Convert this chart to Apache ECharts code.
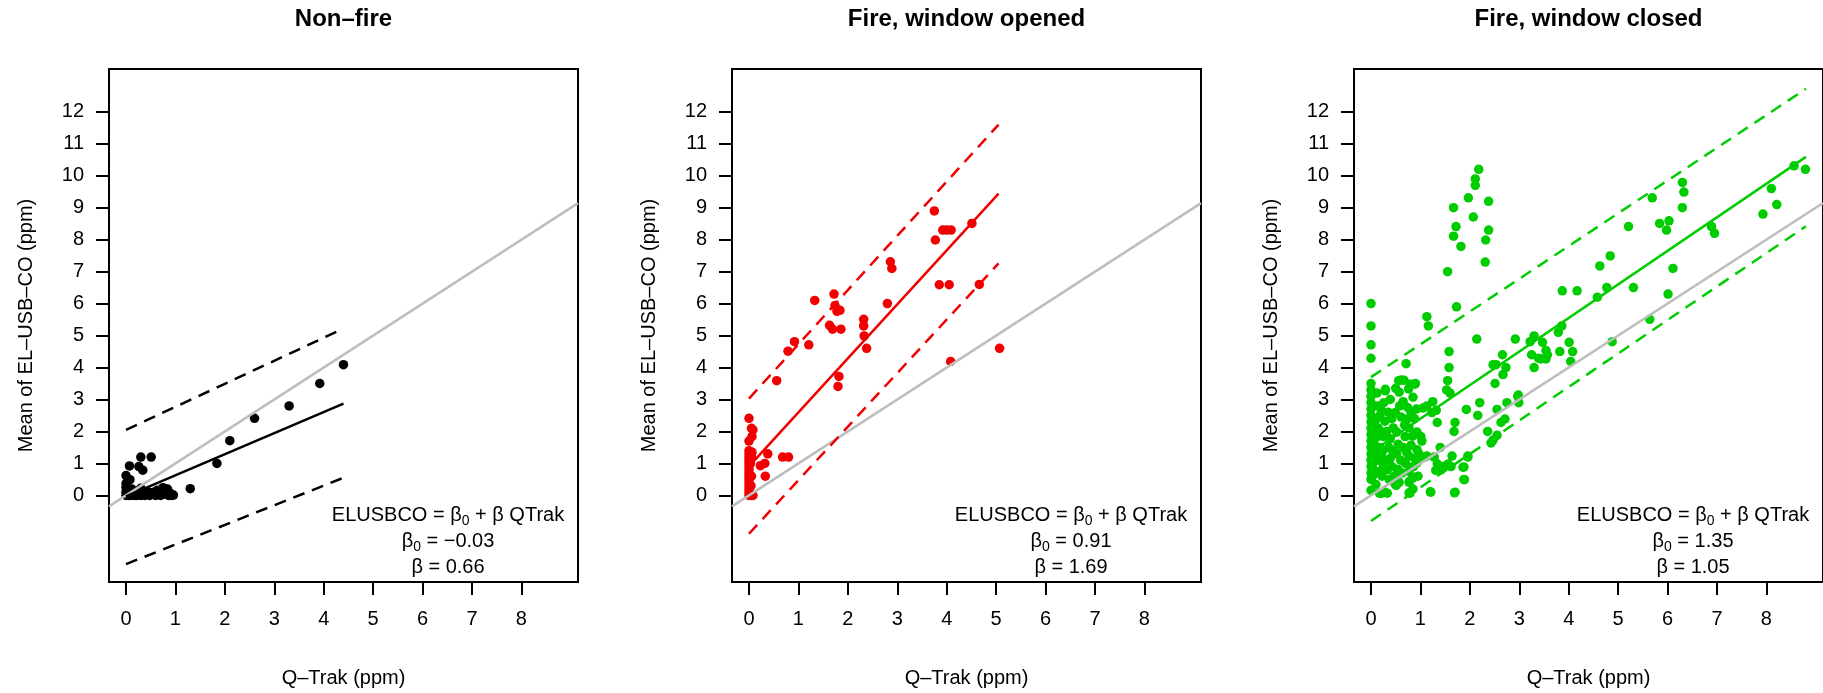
<!DOCTYPE html>
<html>
<head>
<meta charset="utf-8">
<title>EL-USB-CO vs Q-Trak</title>
<script src="https://cdn.jsdelivr.net/npm/echarts@6/dist/echarts.min.js"></script>
<style>
  html, body { margin: 0; padding: 0; background: #fff; }
  #main { width: 1823px; height: 693px; }
</style>
</head>
<body>
<div id="main"></div>
<script>
var myChart = echarts.init(document.getElementById('main'));
var font = '"Liberation Sans", Arial, Helvetica, sans-serif';

// panel titles + regression text
var panelTitles = ['Non–fire', 'Fire, window opened', 'Fire, window closed'];
var beta0Text = ['−0.03', '0.91', '1.35'];
var betaText = ['0.66', '1.69', '1.05'];
var panelColors = ['#000000', '#f00000', '#00cd00'];

var xTicks = [0, 1, 2, 3, 4, 5, 6, 7, 8];
var yTicks = [0, 1, 2, 3, 4, 5, 6, 7, 8, 9, 10, 11, 12];
var xLim = [-0.344, 9.145];
var yLim = [-2.71, 13.34];

// grey 1:1 line across the plot box
var identityLine = [[-0.344, -0.344], [9.145, 9.145]];

// Non-fire
var nonFirePoints = [
  [4.40, 4.09], [3.92, 3.50], [3.30, 2.80], [2.60, 2.41], [2.10, 1.71], [1.84, 1.00], [1.30, 0.21],
  [0.30, 1.20], [0.51, 1.20], [0.07, 0.92], [0.26, 0.90], [0.34, 0.79], [0.00, 0.62], [0.08, 0.49],
  [0.00, 0.37], [0.00, 0.25],
  [0, 0], [0, 0.1], [0.02, 0.05], [0.04, 0.18], [0.05, 0], [0.07, 0.1], [0.1, 0], [0.12, 0.2],
  [0.14, 0.06], [0.17, 0], [0.2, 0.1], [0.22, 0], [0.25, 0.15], [0.28, 0.04], [0.3, 0], [0.3, 0.22],
  [0.34, 0.1], [0.38, 0], [0.41, 0.05], [0.44, 0.12], [0.48, 0], [0.52, 0.06], [0.56, 0.1], [0.6, 0],
  [0.63, 0.16], [0.66, 0.05], [0.7, 0], [0.72, 0.14], [0.75, 0.24], [0.78, 0.04], [0.8, 0.12],
  [0.84, 0.2], [0.86, 0], [0.9, 0.06], [0.93, 0], [0.96, 0.01]
];
var nonFireFit = [[0, -0.03], [4.4, 2.87]];
var nonFireUpper = [[0, 2.05], [4.4, 5.22]];
var nonFireLower = [[0, -2.15], [4.4, 0.55]];

// Fire, window opened
var openPoints = [
  [3.75, 8.90], [3.77, 7.99], [3.92, 8.30], [4.00, 8.30], [4.09, 8.30], [4.51, 8.51], [3.85, 6.59],
  [4.05, 6.59], [4.66, 6.60], [4.08, 4.19], [5.07, 4.60], [2.86, 7.31], [2.89, 7.10], [2.80, 6.00],
  [2.32, 5.51], [2.32, 5.30], [2.33, 4.99], [2.38, 4.60], [1.33, 6.10], [1.72, 6.30], [1.74, 5.94],
  [1.78, 5.76], [1.84, 5.79], [1.63, 5.32], [1.69, 5.20], [1.86, 5.20], [1.82, 3.72], [1.80, 3.41],
  [1.21, 4.71], [0.92, 4.81], [0.79, 4.51], [0.56, 3.59], [0.68, 1.20], [0.80, 1.20], [0.38, 1.30],
  [0.23, 0.93], [0.32, 1.00], [0.33, 0.60], [0.00, 2.41], [0.08, 2.05], [0.06, 1.84], [0.00, 1.70],
  [0.05, 2.10],
  [0, 0], [0, 0.1], [0, 0.2], [0, 0.3], [0, 0.4], [0, 0.5], [0, 0.6], [0, 0.7], [0, 0.8], [0, 0.9],
  [0, 1.0], [0, 1.1], [0, 1.2], [0, 1.3], [0, 1.4], [0.05, 0], [0.04, 0.3], [0.05, 0.6], [0.03, 1.0],
  [0.05, 1.2], [0.06, 1.35], [0.08, 0]
];
var openFit = [[0, 0.91], [5.05, 9.44]];
var openUpper = [[0, 3.03], [5.05, 11.6]];
var openLower = [[0, -1.2], [5.05, 7.26]];

// Fire, window closed
var closedPoints = [
  [2.18, 10.20], [2.11, 9.90], [2.11, 9.70], [1.97, 9.31], [2.38, 9.20], [1.67, 9.00], [2.07, 8.71],
  [1.72, 8.41], [2.38, 8.30], [1.67, 8.11], [2.32, 7.99], [1.82, 7.79], [2.31, 7.30], [1.55, 7.00],
  [1.73, 5.90], [0, 6.00], [0, 5.30], [0, 4.71], [0, 4.29], [1.13, 5.59], [1.16, 5.30], [2.14, 4.89],
  [1.58, 4.50], [1.58, 4.00], [1.55, 3.59], [1.53, 3.30], [0.71, 4.12], [0.56, 3.59],
  [2.92, 4.89], [3.87, 6.40], [4.17, 6.40], [4.63, 7.18], [4.84, 7.49], [4.58, 6.20], [4.77, 6.50],
  [5.31, 6.50], [5.21, 8.41], [5.69, 9.31], [5.84, 8.51], [5.98, 8.30], [6.03, 8.59], [6.30, 9.79],
  [6.33, 9.49], [6.30, 9.00], [6.11, 7.10], [6.01, 6.30], [5.64, 5.51], [4.88, 4.81], [6.89, 8.41],
  [6.95, 8.20], [8.10, 9.60], [8.21, 9.10], [7.93, 8.80], [8.56, 10.31], [8.79, 10.20],
  [3.30, 4.99], [3.22, 4.81], [3.25, 4.40], [3.30, 4.00], [3.47, 4.79], [3.54, 4.53], [3.57, 4.40],
  [3.44, 4.27], [3.54, 4.27], [3.39, 4.29], [3.79, 5.10], [3.86, 5.30], [3.82, 4.50], [4.01, 4.79],
  [4.08, 4.50], [4.04, 4.19], [2.66, 4.40], [2.47, 4.09], [2.53, 4.09], [2.73, 4.00], [2.67, 3.78],
  [2.51, 3.50], [2.98, 3.14],
  [2.97, 3.10], [2.99, 2.90], [2.75, 2.90], [2.71, 2.39], [2.63, 2.28], [2.55, 2.69], [2.36, 2.00],
  [2.43, 1.64], [2.47, 1.73], [2.55, 1.88], [2.20, 2.90], [2.16, 2.50], [1.93, 2.69], [1.96, 1.23],
  [1.88, 0.89], [1.88, 0.50], [1.70, 0.10], [1.70, 2.28], [1.68, 2.00], [1.64, 1.23], [1.56, 0.98],
  [1.48, 0.91], [1.40, 1.50], [1.34, 2.28], [1.31, 0.78], [1.21, 0.10], [1.28, 1.20], [1.13, 1.23],
  [1.05, 2.73], [1.13, 2.80], [1.23, 2.59], [1.01, 1.84], [1.03, 1.70], [0.93, 1.43], [0.93, 1.02],
  [1.25, 2.93], [1.32, 2.66], [1.60, 3.20],
  [0.00, 0.16], [0.20, 0.06], [0.27, 0.11], [0.22, 0.60], [0.39, 0.49], [0.49, 0.35], [0.55, 0.80],
  [0.77, 0.08], [0.78, 0.45], [0.85, 0.57], [1.20, 0.11], [1.69, 0.08], [1.89, 0.49], [1.86, 0.88],
  [1.96, 1.20], [1.62, 0.90], [1.41, 0.80], [1.34, 0.99], [1.07, 1.19],
  [0, 3.5], [0, 3.3], [0, 3.1], [0, 2.9], [0, 2.7], [0, 2.5], [0, 2.3], [0, 2.1], [0, 1.9], [0, 1.7],
  [0, 1.5], [0, 1.3], [0, 1.1], [0, 0.9], [0, 0.7], [0, 0.5],
  [0.21, 2.66], [0.29, 3.27], [0.28, 2.32], [0.25, 1.84], [0.36, 1.50], [0.21, 1.23], [0.25, 0.89],
  [0.37, 0.50], [0.21, 0.07], [0.33, 0.07], [0.49, 2.59], [0.39, 3.00], [0.61, 3.61], [0.57, 3.23],
  [0.52, 1.30], [0.53, 0.82], [0.57, 0.41], [0.51, 0.31], [0.69, 1.84], [0.73, 2.39], [0.77, 2.11],
  [0.81, 3.48], [0.89, 3.48], [0.85, 3.07], [0.81, 2.59], [0.81, 1.57], [0.77, 1.23], [0.77, 0.75],
  [0.77, 0.41], [0.79, 0.07], [0.85, 0.20], [0.85, 0.55], [0.89, 1.16], [0.93, 1.98], [0.52, 1.98],
  [0.39, 1.77], [0.45, 2.11], [0.61, 2.45], [0.65, 2.93], [0.39, 1.16], [0.13, 1.84], [0.10, 2.39],
  [0.13, 2.80], [0.12, 3.20], [0.15, 0.75], [0.10, 0.34], [0.17, 0.07], [0.10, 1.30], [0.06, 1.64],
  [0.06, 2.05], [0.50, 3.35], [0.67, 3.60], [0.76, 3.33], [0.90, 3.50], [0.29, 3.32], [0.04, 1.0],
  [0.05, 1.45], [0.08, 2.2], [0.18, 1.5], [0.3, 1.1], [0.42, 0.9], [0.65, 1.5], [0.7, 1.0],
  [0.95, 0.6], [0.88, 2.4], [0.2, 2.0], [0.35, 2.6], [0.6, 1.1],
  [0.03, 0.6], [0.04, 0.8], [0.03, 1.2], [0.04, 1.6], [0.03, 1.8], [0.04, 2.4], [0.03, 2.8],
  [0.04, 3.2], [0.15, 2.1], [0.16, 1.1], [0.18, 2.5], [0.24, 1.4], [0.26, 2.9], [0.32, 2.0],
  [0.33, 0.8], [0.42, 2.4], [0.44, 1.4], [0.47, 0.6], [0.55, 1.6], [0.58, 2.8], [0.63, 0.7],
  [0.68, 2.2], [0.72, 1.35], [0.74, 2.75], [0.84, 1.85], [0.86, 0.9], [0.92, 2.7], [0.97, 1.3]
];
var closedFit = [[0, 1.35], [8.8, 10.59]];
var closedUpper = [[0, 3.7], [8.8, 12.72]];
var closedLower = [[0, -0.8], [8.8, 8.42]];

var panels = [
  {points: nonFirePoints, fit: nonFireFit, upper: nonFireUpper, lower: nonFireLower},
  {points: openPoints, fit: openFit, upper: openUpper, lower: openLower},
  {points: closedPoints, fit: closedFit, upper: closedUpper, lower: closedLower}
];

var gridLefts = [109, 732, 1354];
var gridW = 469, gridTop = 69, gridH = 521;

var grids = [], xAxes = [], yAxes = [], series = [], graphics = [];

panels.forEach(function (p, i) {
  var col = panelColors[i];
  grids.push({
    left: gridLefts[i], top: gridTop, width: gridW, height: gridH,
    show: true, borderColor: '#000', borderWidth: 2, backgroundColor: 'transparent'
  });
  xAxes.push({
    gridIndex: i, type: 'value', min: xLim[0], max: xLim[1],
    name: 'Q–Trak (ppm)', nameLocation: 'middle', nameGap: 86,
    nameTextStyle: {fontSize: 20, color: '#000', fontFamily: font},
    axisLine: {show: true, onZero: false, lineStyle: {color: '#000', width: 2}},
    axisTick: {show: true, length: 13, customValues: xTicks, lineStyle: {color: '#000', width: 2}},
    axisLabel: {customValues: xTicks, fontSize: 20, color: '#000', margin: 27, fontFamily: font},
    splitLine: {show: false}
  });
  yAxes.push({
    gridIndex: i, type: 'value', min: yLim[0], max: yLim[1],
    name: 'Mean of EL–USB–CO (ppm)', nameLocation: 'middle', nameGap: 73,
    nameTextStyle: {fontSize: 20, color: '#000', fontFamily: font},
    axisLine: {show: true, onZero: false, lineStyle: {color: '#000', width: 2}},
    axisTick: {show: true, length: 13, customValues: yTicks, lineStyle: {color: '#000', width: 2}},
    axisLabel: {customValues: yTicks, fontSize: 20, color: '#000', margin: 25, fontFamily: font},
    splitLine: {show: false}
  });

  series.push({
    type: 'scatter', xAxisIndex: i, yAxisIndex: i, data: p.points,
    symbol: 'circle', symbolSize: 9.5, itemStyle: {color: col, opacity: 1}, z: 2
  });
  series.push({
    type: 'line', xAxisIndex: i, yAxisIndex: i, data: identityLine,
    showSymbol: false, lineStyle: {color: '#bebebe', width: 2.5}, z: 3
  });
  series.push({
    type: 'line', xAxisIndex: i, yAxisIndex: i, data: p.fit,
    showSymbol: false, lineStyle: {color: col, width: 2.5}, z: 4
  });
  [p.upper, p.lower].forEach(function (d) {
    series.push({
      type: 'line', xAxisIndex: i, yAxisIndex: i, data: d,
      showSymbol: false, lineStyle: {color: col, width: 2.5, type: [12, 8]}, z: 4
    });
  });

  var cx = gridLefts[i] + gridW / 2;
  graphics.push({
    type: 'text', x: cx, y: 19,
    style: {text: panelTitles[i], fontSize: 24, fontWeight: 'bold', fontFamily: font, fill: '#000',
      align: 'center', verticalAlign: 'middle'}
  });

  // regression formula, bottom right of each box
  var tx = gridLefts[i] + gridW - 130;
  var rich = {
    t: {fontSize: 20, fontFamily: font, fill: '#000', lineHeight: 26},
    s: {fontSize: 14, fontFamily: font, fill: '#000', lineHeight: 14, verticalAlign: 'bottom'}
  };
  var lines = [
    '{t|ELUSBCO = β}{s|0}{t| + β QTrak}',
    '{t|β}{s|0}{t| = ' + beta0Text[i] + '}',
    '{t|β = ' + betaText[i] + '}'
  ];
  lines.forEach(function (s, k) {
    graphics.push({
      type: 'text', x: tx, y: 515 + k * 26, z: 10,
      style: {text: s, rich: rich, align: 'center', verticalAlign: 'middle'}
    });
  });
});

var option = {
  backgroundColor: '#ffffff',
  animation: false,
  grid: grids,
  xAxis: xAxes,
  yAxis: yAxes,
  series: series,
  graphic: graphics
};

myChart.setOption(option);
</script>
</body>
</html>
